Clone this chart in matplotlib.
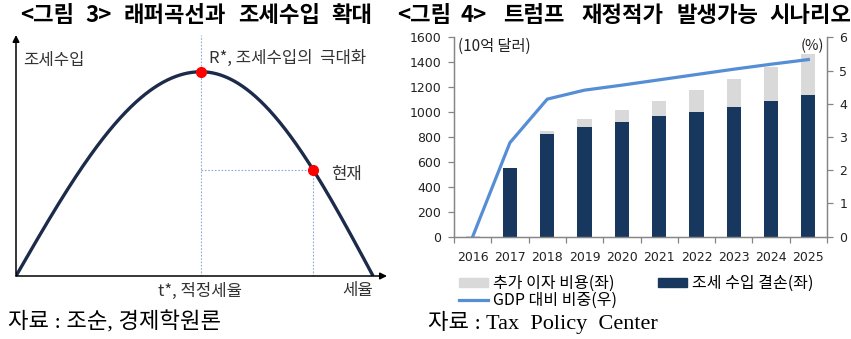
import numpy as np
import matplotlib
matplotlib.use('Agg')
import matplotlib.pyplot as plt
from matplotlib.patches import Patch
from matplotlib.lines import Line2D

plt.rcParams['font.family'] = ['Noto Sans CJK KR', 'DejaVu Sans']
plt.rcParams['axes.unicode_minus'] = False

# 래퍼곡선 (개념도): 세율 0~100, 조세수입은 최대값 1 기준
t_star = 51.8
t_now = 83.2

# 트럼프 재정적자 시나리오 (10억 달러, %)
years = ['2016', '2017', '2018', '2019', '2020', '2021', '2022', '2023', '2024', '2025']
revenue_loss = [0, 552, 822, 883, 918, 966, 1000, 1042, 1092, 1136]
interest_cost = [5, 0, 28, 62, 97, 126, 178, 222, 273, 326]
gdp_share = [0, 2.83, 4.14, 4.41, 4.56, 4.72, 4.88, 5.04, 5.19, 5.33]

W, H = 851, 339
fig = plt.figure(figsize=(W / 100, H / 100), dpi=100)


def fx(px):
    return px / W


def fy(py):
    return 1 - py / H


def laffer(t):
    t = np.asarray(t, dtype=float)
    left = np.sin(np.pi / 2 * t / t_star)
    right = np.cos(np.pi / 2 * (t - t_star) / (100 - t_star))
    return np.where(t <= t_star, left, right)


# ---- 그림 3 : 래퍼곡선 ----
xmax, ymax = 103.9, 1.18
ax1 = fig.add_axes([fx(16), fy(276), fx(387) - fx(16), fy(35) - fy(276)])
ax1.set_xlim(0, xmax)
ax1.set_ylim(0, ymax)
ax1.axis('off')

r_now = float(laffer(t_now))
guide = dict(color='#8eaadb', lw=0.8, ls=(0, (1.5, 1.5)))
ax1.plot([t_star, t_star], [0, ymax], **guide)
ax1.plot([t_star, t_now], [r_now, r_now], **guide)
ax1.plot([t_now, t_now], [0, r_now], **guide)

tt = np.linspace(0, 100, 400)
ax1.plot(tt, laffer(tt), color='#1c2b4a', lw=2.4, solid_capstyle='butt')
ax1.plot([t_star, t_now], [1, r_now], 'o', color='#ff0000', ms=7, zorder=5)

arrow = dict(arrowstyle='-|>', color='black', lw=1.1, mutation_scale=10, shrinkA=0, shrinkB=0)
ax1.annotate('', xy=(xmax, 0), xytext=(0, 0), arrowprops=arrow, annotation_clip=False)
ax1.annotate('', xy=(0, ymax), xytext=(0, 0), arrowprops=arrow, annotation_clip=False)

lab = dict(fontsize=12, color='#333333', va='center')
fig.text(fx(23), fy(60), '조세수입', **lab)
fig.text(fx(209), fy(58), 'R*, 조세수입의  극대화', **lab)
fig.text(fx(331), fy(174), '현재', **lab)
fig.text(fx(200), fy(291), 't*, 적정세율', ha='center', **lab)
fig.text(fx(342), fy(290), '세율', **lab)

# ---- 그림 4 : 재정적자 시나리오 ----
x = np.arange(len(years))
ax2 = fig.add_axes([fx(454), fy(236.7), fx(827) - fx(454), fy(37.3) - fy(236.7)])
ax2.bar(x, revenue_loss, width=0.38, color='#17375e', zorder=2)
ax2.bar(x, interest_cost, width=0.38, bottom=revenue_loss, color='#d9d9d9', zorder=2)
ax2.set_xlim(-0.5, len(years) - 0.5)
ax2.set_ylim(0, 1600)
ax2.set_yticks(range(0, 1601, 200))

ax3 = ax2.twinx()
ax3.plot(x, gdp_share, color='#558ed5', lw=2.3, zorder=3)
ax3.set_ylim(0, 6)
ax3.set_yticks(range(0, 7))

axis_c = '#868686'
for ax in (ax2, ax3):
    ax.spines['top'].set_visible(False)
    for s in ('left', 'right', 'bottom'):
        ax.spines[s].set_color(axis_c)
        ax.spines[s].set_linewidth(0.9)
    ax.tick_params(axis='y', length=4, width=0.9, color=axis_c, labelsize=9, labelcolor='#222222', pad=5)

ax2.set_xticks(x)
ax2.set_xticklabels(years, fontsize=9, color='#222222', family='DejaVu Sans')
ax2.tick_params(axis='x', which='major', length=0, pad=10)
ax2.set_xticks(np.arange(-0.5, len(years)), minor=True)
ax2.tick_params(axis='x', which='minor', length=4, width=0.9, color=axis_c)
for lbl in ax2.get_yticklabels() + ax3.get_yticklabels():
    lbl.set_family('DejaVu Sans')

fig.text(fx(458), fy(46), '(10억 달러)', fontsize=11, color='#222222', va='center')
fig.text(fx(824), fy(46), '(%)', fontsize=10.5, color='#222222', va='center', ha='right')

handles = [Patch(color='#d9d9d9'), Line2D([0], [0], color='#558ed5', lw=2.3), Patch(color='#17375e')]
labels = ['추가 이자 비용(좌)', 'GDP 대비 비중(우)', '조세 수입 결손(좌)']
fig.legend(handles, labels, ncol=2, frameon=False, fontsize=11.5,
           loc='upper left', bbox_to_anchor=(fx(459), fy(275)),
           handlelength=1.8, handleheight=0.5, handletextpad=0.3,
           columnspacing=2.6, labelspacing=0.0, borderpad=0, borderaxespad=0)

# ---- 제목과 출처 (단어별 중심 위치) ----
title = dict(fontsize=16, fontweight='bold', color='black', va='center', ha='center')
left_title = [('<그림', 47), ('3>', 99), ('래퍼곡선과', 175), ('조세수입', 279), ('확대', 352)]
right_title = [('<그림', 424), ('4>', 474), ('트럼프', 534), ('재정적가', 622),
               ('발생가능', 718), ('시나리오', 810)]
for word, px in left_title + right_title:
    fig.text(fx(px), fy(16), word, **title)

src = dict(fontsize=16, color='black', va='center',
           family=['Liberation Serif', 'Noto Sans CJK KR'])
fig.text(fx(8), fy(322), '자료 : 조순, 경제학원론', **src)
fig.text(fx(428), fy(322), '자료 : Tax  Policy  Center', **src)

fig.savefig('out.png', dpi=100)
